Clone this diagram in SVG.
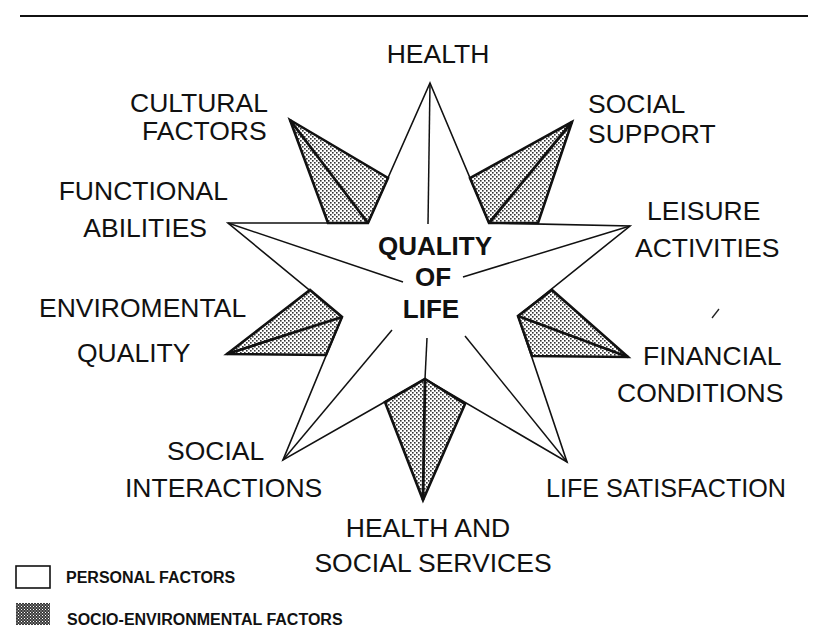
<svg xmlns="http://www.w3.org/2000/svg" width="819" height="638" viewBox="0 0 819 638">
  <defs>
    <!-- fine dot screen used for the socio-environmental points -->
    <pattern id="dots" width="4" height="4" patternUnits="userSpaceOnUse">
      <rect width="4" height="4" fill="#ffffff"/>
      <rect x="0" y="0" width="1.6" height="1.6" fill="#333333"/>
      <rect x="2" y="2" width="1.6" height="1.6" fill="#333333"/>
    </pattern>
    <!-- denser screen for the legend swatch -->
    <pattern id="dense" width="3" height="3" patternUnits="userSpaceOnUse">
      <rect width="3" height="3" fill="#3a3a3a"/>
      <rect x="0" y="0" width="1" height="1" fill="#ffffff"/>
      <rect x="1.5" y="1.5" width="1" height="1" fill="#dddddd"/>
    </pattern>
    <style>
      .lbl { font-family: "Liberation Sans", Arial, sans-serif; font-size: 26.5px; fill: #111; }
      .core { font-family: "Liberation Sans", Arial, sans-serif; font-size: 26px; font-weight: bold; fill: #111; text-anchor: middle; }
      .leg { font-family: "Liberation Sans", Arial, sans-serif; font-size: 16px; font-weight: bold; fill: #111; }
      .star { fill: #ffffff; stroke: #111; stroke-width: 1.6; stroke-linejoin: miter; }
      .shade { fill: url(#dots); stroke: #111; stroke-width: 2.6; stroke-linejoin: miter; }
      .ridge { stroke: #111; stroke-width: 1.5; fill: none; }
      .ridge2 { stroke: #111; stroke-width: 2.8; fill: none; }
    </style>
  </defs>

  <rect width="819" height="638" fill="#ffffff"/>

  <!-- top rule -->
  <line x1="20" y1="16" x2="808" y2="16" stroke="#111" stroke-width="2"/>

  <!-- central star: personal factors -->
  <g id="star-core">
    <polygon class="star" points="430,83 489,223 630,226 518,316 567,462 425,379 283,460 342,317 228,223 368,223"/>
    <text class="core" x="435" y="255">QUALITY</text>
    <text class="core" x="433" y="286">OF</text>
    <text class="core" x="431" y="318">LIFE</text>
  </g>

  <!-- socio-environmental points -->
  <g id="pt-cultural">
    <polygon class="shade" points="290,120 388,178 368,223 328,223"/>
    <text class="lbl" x="130" y="112">CULTURAL</text>
    <text class="lbl" x="142" y="140">FACTORS</text>
  </g>
  <g id="pt-support">
    <polygon class="shade" points="572,122 470,178 489,223 538,223"/>
    <text class="lbl" x="588" y="113">SOCIAL</text>
    <text class="lbl" x="588" y="143">SUPPORT</text>
  </g>
  <g id="pt-environment">
    <polygon class="shade" points="227,354 310,290 342,317 326,355"/>
    <text class="lbl" x="39" y="317">ENVIROMENTAL</text>
    <text class="lbl" x="77" y="362">QUALITY</text>
  </g>
  <g id="pt-financial">
    <polygon class="shade" points="628,357 552,290 518,316 532,356"/>
    <text class="lbl" x="643" y="365">FINANCIAL</text>
    <text class="lbl" x="617" y="402">CONDITIONS</text>
  </g>
  <g id="pt-services">
    <polygon class="shade" points="425,379 385,402 423,500 465,404"/>
    <text class="lbl" x="428" y="537" text-anchor="middle">HEALTH AND</text>
    <text class="lbl" x="433" y="572" text-anchor="middle">SOCIAL SERVICES</text>
  </g>

  <!-- personal-factor point labels -->
  <g id="pt-health">
    <text class="lbl" x="438" y="63" text-anchor="middle">HEALTH</text>
  </g>
  <g id="pt-functional">
    <text class="lbl" x="228" y="200" text-anchor="end">FUNCTIONAL</text>
    <text class="lbl" x="207" y="237" text-anchor="end">ABILITIES</text>
  </g>
  <g id="pt-leisure">
    <text class="lbl" x="647" y="220">LEISURE</text>
    <text class="lbl" x="635" y="257">ACTIVITIES</text>
  </g>
  <g id="pt-interactions">
    <text class="lbl" x="167" y="460">SOCIAL</text>
    <text class="lbl" x="125" y="497">INTERACTIONS</text>
  </g>
  <g id="pt-satisfaction">
    <text class="lbl" x="546" y="497" textLength="240" lengthAdjust="spacingAndGlyphs">LIFE SATISFACTION</text>
  </g>

  <!-- ridge lines running from each tip toward the centre -->
  <g id="connectors">
    <line class="ridge" x1="430" y1="83" x2="428" y2="224"/>
    <line class="ridge" x1="228" y1="223" x2="403" y2="282"/>
    <line class="ridge" x1="630" y1="226" x2="463" y2="277"/>
    <line class="ridge" x1="283" y1="460" x2="392" y2="330"/>
    <line class="ridge" x1="567" y1="462" x2="465" y2="336"/>
    <line class="ridge" x1="425" y1="379" x2="427" y2="338"/>
    <line class="ridge2" x1="290" y1="120" x2="368" y2="223"/>
    <line class="ridge2" x1="572" y1="122" x2="489" y2="223"/>
    <line class="ridge2" x1="227" y1="354" x2="342" y2="317"/>
    <line class="ridge2" x1="628" y1="357" x2="518" y2="316"/>
    <line class="ridge2" x1="425" y1="379" x2="423" y2="500"/>
  </g>

  <!-- small pen mark -->
  <path d="M712,318 L719,309" stroke="#222" stroke-width="1.3" fill="none"/>

  <!-- legend -->
  <g id="legend">
    <rect x="16" y="566" width="34" height="22" fill="#ffffff" stroke="#111" stroke-width="1.6"/>
    <text class="leg" x="66" y="583">PERSONAL FACTORS</text>
    <rect x="16" y="603" width="34" height="22" fill="url(#dense)"/>
    <text class="leg" x="67" y="625">SOCIO-ENVIRONMENTAL FACTORS</text>
  </g>
</svg>
